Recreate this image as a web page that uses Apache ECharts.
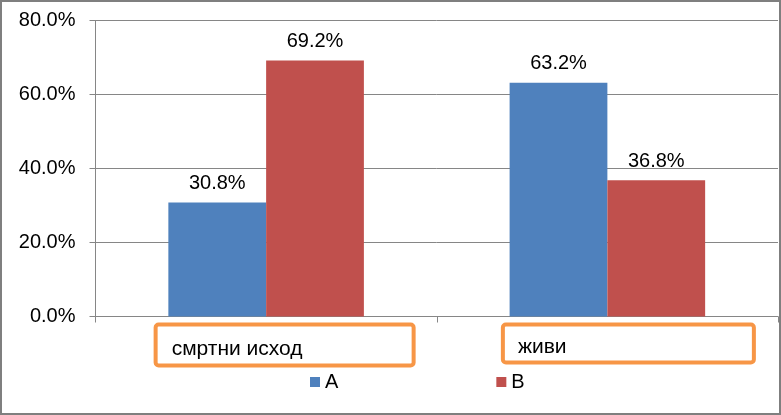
<!DOCTYPE html>
<html>
<head>
<meta charset="utf-8">
<script src="https://cdn.jsdelivr.net/npm/echarts@6/dist/echarts.min.js"></script>
<style>
  html, body { margin: 0; padding: 0; background: #fff; }
  #main { width: 781px; height: 415px; }
</style>
</head>
<body>
<div id="main"></div>
<script>
// categories and values (percent)
var categories = ['смртни исход', 'живи'];
var seriesNames = ['A', 'B'];
var valuesA = [30.8, 63.2];
var valuesB = [69.2, 36.8];
var yTicks = [0, 20, 40, 60, 80];

var myChart = echarts.init(document.getElementById('main'));

var font = 'Liberation Sans, Arial, sans-serif';
var catFontSize = 21;
function pct(v) { return v.toFixed(1) + '%'; }

// measure text so the label sits at the left of its box
var ctx = document.createElement('canvas').getContext('2d');
ctx.font = catFontSize + 'px ' + font;
function textW(s) { return ctx.measureText(s).width; }

// box inner widths and left paddings for the two category labels
var boxW = [258, 251];
var padL = [16, 15];

var option = {
  animation: false,
  textStyle: { fontFamily: font },
  // outer frame
  graphic: [{
    type: 'rect',
    shape: { x: 1, y: 1, width: 779, height: 413 },
    style: { fill: 'none', stroke: '#7f7f7f', lineWidth: 2 },
    silent: true
  }],
  grid: { left: 95.5, right: 3, top: 20.5, bottom: 98.5 },
  legend: {
    data: seriesNames,
    left: 305,
    top: 367,
    itemWidth: 10,
    itemHeight: 10,
    itemGap: 158,
    icon: 'rect',
    textStyle: { fontSize: 20, color: '#000', fontFamily: font }
  },
  xAxis: {
    type: 'category',
    data: categories,
    axisLine: { lineStyle: { color: '#868686' } },
    axisTick: { show: true, length: 6, lineStyle: { color: '#868686' } },
    axisLabel: {
      margin: 8,
      interval: 0,
      formatter: function (v, i) {
        return i === 0 ? '{s1|}{b1|' + v + '}' : '{s2|}{b2|' + v + '}';
      },
      rich: {
        s1: { width: 37 },
        s2: { width: 42 },
        b1: {
          fontSize: catFontSize, color: '#000', fontFamily: font,
          padding: [14.5, boxW[0] - padL[0] - textW(categories[0]), 5.5, padL[0]],
          borderColor: '#F79646', borderWidth: 4, borderRadius: 3
        },
        b2: {
          fontSize: catFontSize, color: '#000', fontFamily: font,
          padding: [12.5, boxW[1] - padL[1] - textW(categories[1]), 4.5, padL[1]],
          borderColor: '#F79646', borderWidth: 4, borderRadius: 3
        }
      }
    }
  },
  yAxis: {
    type: 'value',
    min: yTicks[0],
    max: yTicks[yTicks.length - 1],
    interval: 20,
    axisLine: { show: true, lineStyle: { color: '#868686' } },
    axisTick: { show: true, length: 6, lineStyle: { color: '#868686' } },
    splitLine: { lineStyle: { color: '#868686' } },
    axisLabel: {
      margin: 20,
      fontSize: 20,
      color: '#000',
      fontFamily: font,
      formatter: function (v) { return pct(v); }
    }
  },
  series: [{
    name: seriesNames[0],
    type: 'bar',
    data: valuesA,
    barGap: '0%',
    barCategoryGap: '42.7%',
    itemStyle: { color: '#4F81BD' },
    label: {
      show: true, position: 'top', distance: 9, fontSize: 20, color: '#000', fontFamily: font,
      formatter: function (p) { return pct(p.value); }
    }
  }, {
    name: seriesNames[1],
    type: 'bar',
    data: valuesB,
    barGap: '0%',
    barCategoryGap: '42.7%',
    itemStyle: { color: '#C0504D' },
    label: {
      show: true, position: 'top', distance: 9, fontSize: 20, color: '#000', fontFamily: font,
      formatter: function (p) { return pct(p.value); }
    }
  }]
};

myChart.setOption(option);
</script>
</body>
</html>
